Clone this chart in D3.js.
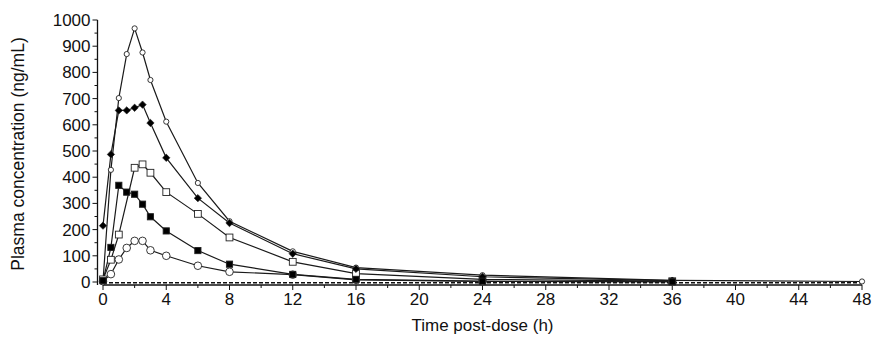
<!DOCTYPE html>
<html>
<head>
<meta charset="utf-8">
<script src="https://cdn.jsdelivr.net/npm/d3@7"></script>
<style>
  html, body { margin: 0; padding: 0; background: #fff; }
  svg { display: block; }
  text { font-family: "Liberation Sans", Arial, sans-serif; fill: #111; }
</style>
</head>
<body>
<svg id="chart" width="877" height="337"></svg>
<script>
// Sampling times (h) and plasma concentrations (ng/mL) for each group
const times = [0, 0.5, 1, 1.5, 2, 2.5, 3, 4, 6, 8, 12, 16, 24, 36, 48];

const openCircleSmall = [4, 428, 702, 870, 968, 876, 771, 612, 378, 232, 117, 55, 26, 6, 2];
const filledDiamond   = [215, 487, 655, 655, 665, 677, 607, 474, 320, 225, 108, 50, 20, 5, null];
const openSquare      = [10, 85, 181, null, 436, 449, 417, 343, 260, 170, 77, 32, 10, 3, null];
const filledSquare    = [5, 132, 369, 343, 335, 297, 249, 195, 120, 68, 29, 10, 3, 1, null];
const openCircleLarge = [3, 30, 86, 130, 157, 157, 121, 100, 62, 39, 28, 8, 2, 1, null];

const xTicks = [0, 4, 8, 12, 16, 20, 24, 28, 32, 36, 40, 44, 48];
const yTicks = [0, 100, 200, 300, 400, 500, 600, 700, 800, 900, 1000];

// Listed in drawing order for the markers (filled symbols end up on top)
const series = [
  { values: openCircleLarge, shape: "circle", size: 3.8, fill: "#fff" },
  { values: openSquare,      shape: "square", size: 6.8, fill: "#fff" },
  { values: openCircleSmall, shape: "circle", size: 2.6, fill: "#fff" },
  { values: filledDiamond,   shape: "diamond", size: 3.6, fill: "#000" },
  { values: filledSquare,    shape: "square", size: 6.2, fill: "#000" }
];

const svg = d3.select("#chart");

const x = d3.scaleLinear().domain([0, 48]).range([103, 862]);
const y = d3.scaleLinear().domain([0, 1000]).range([282, 20]);

const axisX = 97.5;  // y-axis line position (detached from the data origin)
const axisY = 285;   // x-axis line position

// Y axis: major ticks every 100, minor every 50
const yAxis = svg.append("g").attr("transform", `translate(${axisX},0)`);
yAxis.append("line").attr("y1", y(1000)).attr("y2", axisY)
  .attr("stroke", "#111").attr("stroke-width", 1.3);
yAxis.selectAll("line.minor").data(d3.range(50, 1000, 100)).join("line")
  .attr("class", "minor").attr("x1", -3).attr("x2", 0)
  .attr("y1", d => y(d)).attr("y2", d => y(d)).attr("stroke", "#111");
yAxis.selectAll("line.major").data(yTicks).join("line")
  .attr("class", "major").attr("x1", -5).attr("x2", 0)
  .attr("y1", d => y(d)).attr("y2", d => y(d)).attr("stroke", "#111");
yAxis.selectAll("text").data(yTicks).join("text")
  .attr("x", -7).attr("y", d => y(d)).attr("dy", "0.35em")
  .attr("text-anchor", "end").attr("font-size", 17).text(d => d);

// X axis: major ticks every 4 h, minor every 2 h
const xAxis = svg.append("g").attr("transform", `translate(0,${axisY})`);
xAxis.append("line").attr("x1", x(0)).attr("x2", x(48))
  .attr("stroke", "#111").attr("stroke-width", 1.3);
xAxis.selectAll("line.minor").data(d3.range(2, 48, 4)).join("line")
  .attr("class", "minor").attr("y1", 0).attr("y2", 3)
  .attr("x1", d => x(d)).attr("x2", d => x(d)).attr("stroke", "#111");
xAxis.selectAll("line.major").data(xTicks).join("line")
  .attr("class", "major").attr("y1", 0).attr("y2", 5)
  .attr("x1", d => x(d)).attr("x2", d => x(d)).attr("stroke", "#111");
xAxis.selectAll("text").data(xTicks).join("text")
  .attr("x", d => x(d)).attr("y", 20)
  .attr("text-anchor", "middle").attr("font-size", 17).text(d => d);

// Lower limit of quantification reference line
svg.append("line")
  .attr("x1", x(0)).attr("x2", x(48))
  .attr("y1", y(0) + 0.8).attr("y2", y(0) + 0.8)
  .attr("stroke", "#111").attr("stroke-width", 1.4)
  .attr("stroke-dasharray", "4,2");

// Axis titles
svg.append("text")
  .attr("x", x(24)).attr("y", 331)
  .attr("text-anchor", "middle").attr("font-size", 17)
  .text("Time post-dose (h)");
svg.append("text")
  .attr("transform", `translate(24,${(y(0) + y(1000)) / 2 + 3}) rotate(-90)`)
  .attr("text-anchor", "middle").attr("font-size", 17.5)
  .text("Plasma concentration (ng/mL)");

// Concentration-time profiles
const line = d3.line()
  .x(d => x(d.t)).y(d => y(d.v));

const points = s => times.map((t, i) => ({ t, v: s.values[i] })).filter(d => d.v !== null);

const plot = svg.append("g");
series.forEach(s => {
  plot.append("path")
    .datum(points(s))
    .attr("d", line)
    .attr("fill", "none").attr("stroke", "#1a1a1a").attr("stroke-width", 1.2);
});

series.forEach(s => {
  const pts = points(s);
  const g = plot.append("g");
  if (s.shape === "circle") {
    g.selectAll("circle").data(pts).join("circle")
      .attr("cx", d => x(d.t)).attr("cy", d => y(d.v)).attr("r", s.size)
      .attr("fill", s.fill).attr("stroke", "#222").attr("stroke-width", 0.9);
  } else if (s.shape === "square") {
    g.selectAll("rect").data(pts).join("rect")
      .attr("x", d => x(d.t) - s.size / 2).attr("y", d => y(d.v) - s.size / 2)
      .attr("width", s.size).attr("height", s.size)
      .attr("fill", s.fill).attr("stroke", "#222").attr("stroke-width", 0.9);
  } else {
    const sym = d3.symbol().type(d3.symbolSquare).size((s.size * 1.45) ** 2);
    g.selectAll("path").data(pts).join("path")
      .attr("d", sym)
      .attr("transform", d => `translate(${x(d.t)},${y(d.v)}) rotate(45)`)
      .attr("fill", s.fill).attr("stroke", "#222").attr("stroke-width", 0.6);
  }
});
</script>
</body>
</html>
